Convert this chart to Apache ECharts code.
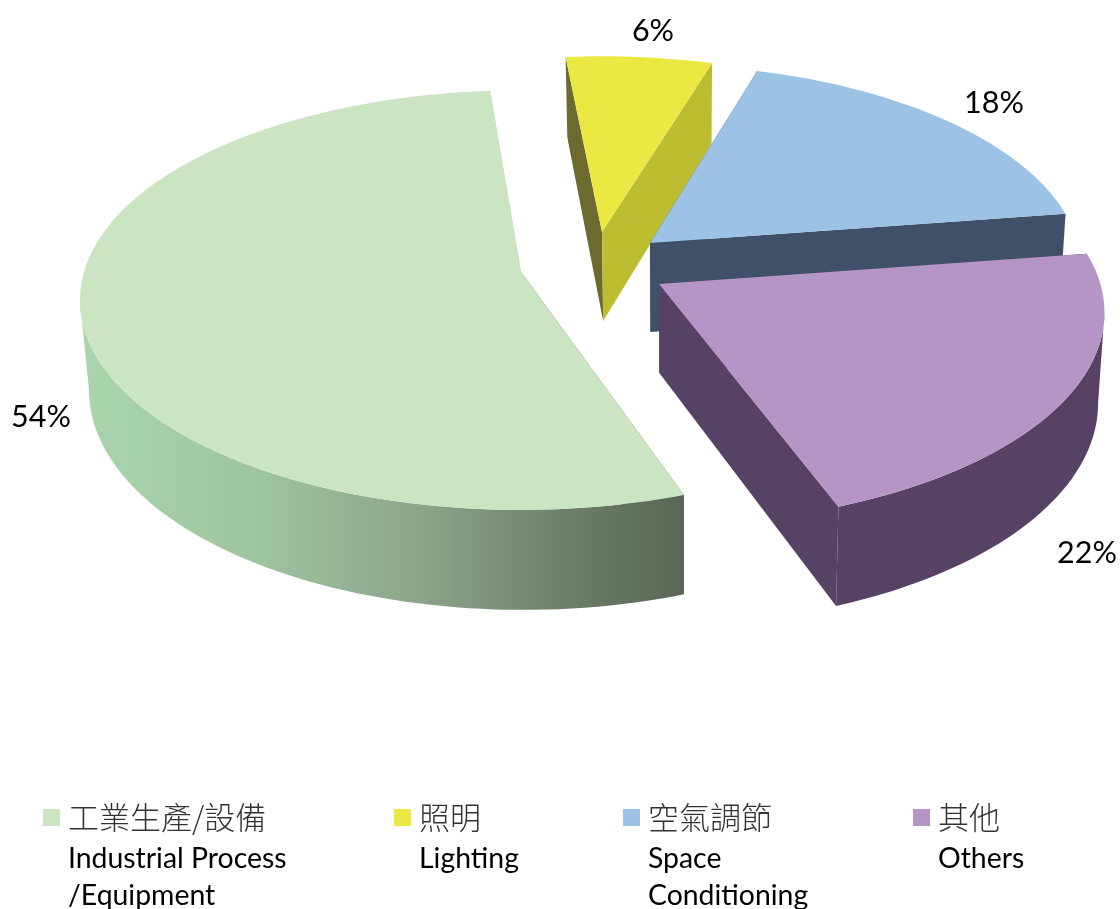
<!DOCTYPE html>
<html><head><meta charset="utf-8">
<style>html,body{margin:0;padding:0;background:#fff}#c{width:1120px;height:909px}</style>
<script src="https://cdn.jsdelivr.net/npm/echarts@6/dist/echarts.min.js"></script>
</head><body><div id="c"></div>
<script>
const categoriesZh = ['工業生產/設備', '照明', '空氣調節', '其他'];
const categoriesEn = [['Industrial Process', '/Equipment'], ['Lighting'], ['Space', 'Conditioning'], ['Others']];
const shares = [54, 6.3, 18.1, 21.6];

// presentation
const topColors = ['#cbe4c2', '#ece843', '#9cc2e6', '#b595c6'];
const startWallColors = ['#5a6656', '#6c6b2f', '#3f5068', '#574265'];
const endWallColors = ['#a9d5ab', '#bdbd31', '#3f5068', '#574265'];
const wallGradient = { type: 'linear', global: true, x: 85, y: 0, x2: 682, y2: 0, colorStops: [
  { offset: 0, color: '#a9d5ab' }, { offset: 0.28, color: '#9fc5a0' },
  { offset: 0.55, color: '#8ea68c' }, { offset: 0.8, color: '#6f7f6b' }, { offset: 1, color: '#5a6656' }] };
const wallFills = [wallGradient, '#6c6b2f', '#3f5068', '#574265'];
const drawOrder = [2, 0, 1, 3];           // z for each slice: yellow, blue, green, purple stacking
const tips = [[521, 272], [602, 232], [650, 243], [659, 284]]; // exploded slice apex on screen
const radiusScale = [1, 0.963, 0.98, 1.01];
const viewAngleShift = [0, -1, -1.7, -1.8]; // small per-slice correction for the 3D view
const labelAt = [[41, 417], [653, 31], [994, 103], [1087, 553]];
const legendX = [43, 394, 623, 913];
const ROT = 161, A = 437, B = 206, K = 0.134, DEPTH = 89, KD = 0.11, VPX = 680, SHRINK = 0.985;
const LATIN = 'Lato, "Open Sans", sans-serif';
const CJK = '"Noto Sans CJK TC", sans-serif';

function pt(tip, X, Y, bottom) {
  const s = 1 - K * Y;
  let x = tip[0] + A * X / s, y = tip[1] + B * Y / s;
  if (bottom) { y += DEPTH / (1 - KD * Y); x = VPX + (x - VPX) * SHRINK; }
  return [x, y];
}
function rim(tip, r, a0, a1, bottom) {
  const out = [], n = Math.max(2, Math.ceil((a1 - a0) / 1.5));
  for (let i = 0; i <= n; i++) {
    const t = (a0 + (a1 - a0) * i / n) * Math.PI / 180;
    out.push(pt(tip, r * Math.sin(t), -r * Math.cos(t), bottom));
  }
  return out;
}
const seriesData = (function () {
  let c = 0;
  return shares.map(v => { const d = [v, c]; c += v; return d; });
})();

function renderItem(params, api) {
  const i = params.seriesIndex, v = api.value(0), c = api.value(1);
  const a0 = (ROT + c * 3.6 + viewAngleShift[i]) % 360, a1 = a0 + v * 3.6, tip = tips[i], r = radiusScale[i];
  const tipB = pt(tip, 0, 0, true);
  const topRim = rim(tip, r, a0, a1, false), botRim = rim(tip, r, a0, a1, true);
  const poly = (points, fill) => ({ type: 'polygon', shape: { points }, style: { fill, stroke: null } });
  const children = [
    poly([tip, topRim[0], botRim[0], tipB], startWallColors[i]),
    poly([tip, topRim[topRim.length - 1], botRim[botRim.length - 1], tipB], endWallColors[i])
  ];
  // outer wall: only the part of the rim that faces the viewer
  const w0 = Math.max(a0, 97.7), w1 = Math.min(a1, 262.3);
  if (w1 > w0) {
    children.push(poly(rim(tip, r, w0, w1, false).concat(rim(tip, r, w0, w1, true).reverse()), wallFills[i]));
  }
  children.push(poly([tip].concat(topRim), topColors[i]));
  children.push({ type: 'text', z2: 50, style: { text: Math.round(v) + '%', x: labelAt[i][0], y: labelAt[i][1], align: 'center', verticalAlign: 'middle',
      fill: '#000', font: '30.5px ' + LATIN } });
  return { type: 'group', children };
}

const chart = echarts.init(document.getElementById('c'), null, { renderer: 'canvas' });
chart.setOption({
  animation: false,
  backgroundColor: '#fff',
  legend: categoriesZh.map((n, i) => ({
    data: [n], left: legendX[i], top: 802, orient: 'horizontal', selectedMode: false,
    icon: 'rect', itemWidth: 17, itemHeight: 17, itemGap: 0, padding: 0,
    textStyle: { fontFamily: CJK, fontSize: 31, fontWeight: 300, color: '#333', padding: [0, 0, 0, 3] }
  })),
  series: categoriesZh.map((n, i) => ({
    type: 'custom', name: n, coordinateSystem: 'none', z: 2 + drawOrder[i],
    itemStyle: { color: topColors[i] }, renderItem, data: [seriesData[i]], silent: true
  })),
  graphic: categoriesEn.flatMap((lines, i) => lines.map((t, j) => ({
    type: 'text', left: legendX[i] + 25, top: 845 + j * 37, silent: true,
    style: { text: t, fill: '#000', font: '28.4px ' + LATIN }
  })))
});
</script></body></html>
